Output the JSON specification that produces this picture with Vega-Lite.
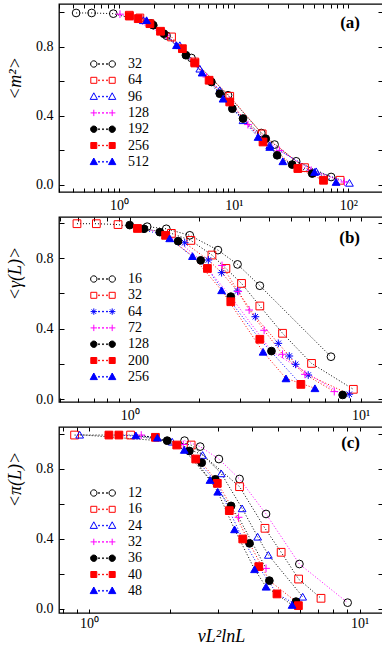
{
"$schema": "https://vega.github.io/schema/vega-lite/v6.json",
"padding": {"left": 5, "top": 2, "right": 2, "bottom": 0},
"bounds": "flush",
"spacing": 25,
"datasets": {
"a": [
{"L":"32","x":0.423,"y":0.997},{"L":"32","x":0.578,"y":0.997},{"L":"32","x":0.892,"y":0.993},{"L":"32","x":1.9,"y":0.937},{"L":"32","x":2.6,"y":0.865},{"L":"32","x":4.28,"y":0.736},{"L":"32","x":8.92,"y":0.52},{"L":"32","x":17.4,"y":0.301},{"L":"32","x":22.7,"y":0.234},{"L":"32","x":35,"y":0.137},{"L":"32","x":70.6,"y":0.046},
{"L":"64","x":1.23,"y":0.984},{"L":"64","x":1.52,"y":0.968},{"L":"64","x":2.87,"y":0.858},{"L":"64","x":4.58,"y":0.713},{"L":"64","x":9.23,"y":0.514},{"L":"64","x":17.7,"y":0.296},{"L":"64","x":41.4,"y":0.1},{"L":"64","x":84.5,"y":0.027},
{"L":"96","x":1.63,"y":0.955},{"L":"96","x":3.39,"y":0.81},{"L":"96","x":5.06,"y":0.674},{"L":"96","x":7.55,"y":0.549},{"L":"96","x":12.05,"y":0.375},{"L":"96","x":20.6,"y":0.23},{"L":"96","x":52.3,"y":0.079},{"L":"96","x":102,"y":0.012},
{"L":"128","x":1.02,"y":0.99},{"L":"128","x":2.59,"y":0.868},{"L":"128","x":5.78,"y":0.626},{"L":"128","x":9.23,"y":0.49},{"L":"128","x":13.3,"y":0.35},{"L":"128","x":25.1,"y":0.2},{"L":"128","x":47.3,"y":0.085},{"L":"128","x":92.3,"y":0.017},
{"L":"192","x":1.99,"y":0.926},{"L":"192","x":2.46,"y":0.877},{"L":"192","x":3.83,"y":0.752},{"L":"192","x":6.39,"y":0.597},{"L":"192","x":7.55,"y":0.529},{"L":"192","x":9.73,"y":0.442},{"L":"192","x":12.05,"y":0.385},{"L":"192","x":19,"y":0.268},{"L":"192","x":23.9,"y":0.172},{"L":"192","x":32.3,"y":0.118},{"L":"192","x":48.3,"y":0.066},
{"L":"256","x":1.23,"y":0.979},{"L":"256","x":1.47,"y":0.964},{"L":"256","x":1.86,"y":0.935},{"L":"256","x":2.3,"y":0.891},{"L":"256","x":3.57,"y":0.79},{"L":"256","x":4.58,"y":0.707},{"L":"256","x":6.1,"y":0.607},{"L":"256","x":9.23,"y":0.481},{"L":"256","x":18,"y":0.249},{"L":"256","x":36.2,"y":0.095},{"L":"256","x":60.6,"y":0.027},
{"L":"512","x":1.74,"y":0.955},{"L":"512","x":3.17,"y":0.81},{"L":"512","x":5.3,"y":0.651},{"L":"512","x":8.07,"y":0.5},{"L":"512","x":16.3,"y":0.278},{"L":"512","x":20.6,"y":0.22},{"L":"512","x":26.8,"y":0.137},{"L":"512","x":50.6,"y":0.075},{"L":"512","x":78,"y":0.017}
],
"b": [
{"L":"16","x":1.19,"y":0.978},{"L":"16","x":1.44,"y":0.966},{"L":"16","x":1.82,"y":0.929},{"L":"16","x":2.41,"y":0.845},{"L":"16","x":2.93,"y":0.764},{"L":"16","x":3.66,"y":0.643},{"L":"16","x":7.44,"y":0.24},
{"L":"32","x":0.591,"y":0.995},{"L":"32","x":0.717,"y":0.995},{"L":"32","x":0.89,"y":0.99},{"L":"32","x":1.515,"y":0.94},{"L":"32","x":1.84,"y":0.9},{"L":"32","x":2.27,"y":0.817},{"L":"32","x":2.61,"y":0.741},{"L":"32","x":3.05,"y":0.656},{"L":"32","x":3.66,"y":0.528},{"L":"32","x":4.59,"y":0.373},{"L":"32","x":6.13,"y":0.202},{"L":"32","x":9.3,"y":0.055},
{"L":"64","x":1.73,"y":0.887},{"L":"64","x":2.19,"y":0.789},{"L":"64","x":2.5,"y":0.717},{"L":"64","x":2.93,"y":0.613},{"L":"64","x":3.5,"y":0.467},{"L":"64","x":4.4,"y":0.316},{"L":"64","x":4.91,"y":0.244},{"L":"64","x":5.23,"y":0.197},{"L":"64","x":5.93,"y":0.136},{"L":"64","x":8.93,"y":0.027},
{"L":"72","x":2.51,"y":0.758},{"L":"72","x":2.95,"y":0.61},{"L":"72","x":3.29,"y":0.505},{"L":"72","x":3.82,"y":0.39},{"L":"72","x":4.59,"y":0.254},{"L":"72","x":5.74,"y":0.14},{"L":"72","x":7.69,"y":0.042},
{"L":"128","x":1.0,"y":0.987},{"L":"128","x":1.153,"y":0.966},{"L":"128","x":1.35,"y":0.947},{"L":"128","x":1.62,"y":0.896},{"L":"128","x":2.03,"y":0.787},{"L":"128","x":2.74,"y":0.581},{"L":"128","x":4.11,"y":0.272},{"L":"128","x":8.36,"y":0.023},
{"L":"200","x":1.08,"y":0.968},{"L":"200","x":1.43,"y":0.929},{"L":"200","x":2.17,"y":0.741},{"L":"200","x":2.74,"y":0.552},{"L":"200","x":3.66,"y":0.339},{"L":"200","x":5.51,"y":0.083},
{"L":"256","x":1.49,"y":0.912},{"L":"256","x":1.87,"y":0.811},{"L":"256","x":2.5,"y":0.617},{"L":"256","x":3.78,"y":0.268},{"L":"256","x":4.75,"y":0.117},{"L":"256","x":6.34,"y":0.061}
],
"c": [
{"L":"12","x":2.255,"y":0.962},{"L":"12","x":2.575,"y":0.928},{"L":"12","x":3.02,"y":0.857},{"L":"12","x":3.6,"y":0.743},{"L":"12","x":4.51,"y":0.543},{"L":"12","x":5.99,"y":0.257},{"L":"12","x":9.03,"y":0.036},
{"L":"16","x":0.885,"y":0.994},{"L":"16","x":1.425,"y":0.994},{"L":"16","x":2.385,"y":0.937},{"L":"16","x":3.6,"y":0.699},{"L":"16","x":4.47,"y":0.461},{"L":"16","x":5.13,"y":0.324},{"L":"16","x":5.95,"y":0.171},{"L":"16","x":7.2,"y":0.061},
{"L":"24","x":0.924,"y":0.996},{"L":"24","x":2.03,"y":0.956},{"L":"24","x":2.63,"y":0.88},{"L":"24","x":3.08,"y":0.775},{"L":"24","x":3.68,"y":0.575},{"L":"24","x":4.2,"y":0.413},{"L":"24","x":4.6,"y":0.309},{"L":"24","x":6.16,"y":0.07},
{"L":"32","x":1.56,"y":0.994},{"L":"32","x":2.23,"y":0.94},{"L":"32","x":3.57,"y":0.524},{"L":"32","x":4.51,"y":0.232},
{"L":"36","x":1.945,"y":0.962},{"L":"36","x":2.35,"y":0.903},{"L":"36","x":2.61,"y":0.836},{"L":"36","x":2.93,"y":0.741},{"L":"36","x":3.35,"y":0.589},{"L":"36","x":3.92,"y":0.375},{"L":"36","x":4.64,"y":0.162},{"L":"36","x":5.82,"y":0.042},
{"L":"40","x":1.185,"y":0.994},{"L":"40","x":1.29,"y":0.994},{"L":"40","x":1.76,"y":0.981},{"L":"40","x":2.11,"y":0.937},{"L":"40","x":2.48,"y":0.857},{"L":"40","x":2.98,"y":0.718},{"L":"40","x":3.3,"y":0.562},{"L":"40","x":3.7,"y":0.4},{"L":"40","x":4.24,"y":0.242},{"L":"40","x":4.95,"y":0.086},{"L":"40","x":5.94,"y":0.019},
{"L":"48","x":1.49,"y":0.992},{"L":"48","x":1.79,"y":0.979},{"L":"48","x":2.25,"y":0.909},{"L":"48","x":2.8,"y":0.737},{"L":"48","x":2.99,"y":0.67},{"L":"48","x":3.45,"y":0.455},{"L":"48","x":4.09,"y":0.227},{"L":"48","x":4.51,"y":0.127},{"L":"48","x":5.63,"y":0.023}
]
},
"vconcat": [
{
"width": 324, "height": 188,
"title": {"text": "(a)", "orient": "top", "anchor": "end", "frame": "group", "offset": -28, "dx": -23, "font": "Liberation Serif", "fontSize": 17, "fontWeight": "bold", "color": "black"},
"data": {"name": "a"},
"layer": [
{"mark": {"type": "line", "strokeDash": [1, 2], "strokeWidth": 1},
"encoding": {
"x": {"field": "x", "type": "quantitative", "scale": {"type": "log", "domain": [0.3, 200], "nice": false},
"axis": {"orient": "bottom", "values": [0.3,0.4,0.5,0.6,0.7,0.8,0.9,1,2,3,4,5,6,7,8,9,10,20,30,40,50,60,70,80,90,100], "labelExpr": "datum.value==1?'10⁰':datum.value==10?'10¹':datum.value==100?'10²':''", "tickSize": -4, "labelPadding": 10, "title": null}},
"y": {"field": "y", "type": "quantitative", "scale": {"domain": [-0.041, 1.049], "nice": false, "zero": false},
"axis": {"orient": "left", "values": [0,0.2,0.4,0.6,0.8,1.0], "format": ".1f", "labelExpr": "datum.value==0||datum.value==0.4||datum.value==0.8?datum.label:''", "tickSize": -5, "labelPadding": 11, "title": "<m²>", "titleX": -35, "titleY": 74}},
"color": {"field": "L", "type": "nominal", "scale": {"domain": ["32","64","96","128","192","256","512"], "range": ["#000000","#ff0000","#0000ff","#ff00ff","#000000","#ff0000","#0000ff"]}, "legend": null}
}},
{"mark": {"type": "point", "size": 60, "strokeWidth": 1, "opacity": 1},
"encoding": {
"x": {"field": "x", "type": "quantitative", "axis": {"orient": "top", "values": [0.3,0.4,0.5,0.6,0.7,0.8,0.9,1,2,3,4,5,6,7,8,9,10,20,30,40,50,60,70,80,90,100], "labels": false, "tickSize": -4, "title": null}},
"y": {"field": "y", "type": "quantitative", "axis": {"orient": "right", "values": [0,0.2,0.4,0.6,0.8,1.0], "labels": false, "tickSize": -5, "title": null}},
"stroke": {"field": "L", "type": "nominal", "scale": {"domain": ["32","64","96","128","192","256","512"], "range": ["#000000","#ff0000","#0000ff","#ff00ff","#000000","#ff0000","#0000ff"]}, "legend": null},
"fill": {"field": "L", "type": "nominal", "scale": {"domain": ["32","64","96","128","192","256","512"], "range": ["transparent","transparent","transparent","#ff00ff","#000000","#ff0000","#0000ff"]}, "legend": null},
"shape": {"field": "L", "type": "nominal", "scale": {"domain": ["32","64","96","128","192","256","512"], "range": ["circle","square","triangle-up","M-1,0H1M0,-1V1","circle","square","triangle-up"]}, "legend": null}
}},
{"mark": {"type": "point", "opacity": 0},
"encoding": {
"x": {"field": "x", "type": "quantitative", "axis": null},
"y": {"field": "y", "type": "quantitative", "axis": null},
"stroke": {"field": "L", "type": "nominal", "scale": {"domain": ["32","64","96","128","192","256","512"], "range": ["#000000","#ff0000","#0000ff","#ff00ff","#000000","#ff0000","#0000ff"]}, "legend": {"orient": "none", "legendX": 37, "legendY": 53, "title": null}},
"fill": {"field": "L", "type": "nominal", "scale": {"domain": ["32","64","96","128","192","256","512"], "range": ["transparent","transparent","transparent","#ff00ff","#000000","#ff0000","#0000ff"]}, "legend": {"orient": "none", "legendX": 37, "legendY": 53, "title": null}},
"shape": {"field": "L", "type": "nominal", "scale": {"domain": ["32","64","96","128","192","256","512"], "range": [
"M-1.5,0A0.8,0.8 0 1,1 -3.1,0A0.8,0.8 0 1,1 -1.5,0ZM3.1,0A0.8,0.8 0 1,1 1.5,0A0.8,0.8 0 1,1 3.1,0ZM-1.1,-0.1h0.2v0.2h-0.2ZM-0.1,-0.1h0.2v0.2h-0.2ZM0.9,-0.1h0.2v0.2h-0.2Z",
"M-3.05,-0.75H-1.55V0.75H-3.05ZM1.55,-0.75H3.05V0.75H1.55ZM-1.1,-0.1h0.2v0.2h-0.2ZM-0.1,-0.1h0.2v0.2h-0.2ZM0.9,-0.1h0.2v0.2h-0.2Z",
"M-2.3,-0.95L-1.4,0.7H-3.2ZM2.3,-0.95L3.2,0.7H1.4ZM-1.1,-0.1h0.2v0.2h-0.2ZM-0.1,-0.1h0.2v0.2h-0.2ZM0.9,-0.1h0.2v0.2h-0.2Z",
"M-3.1,0H-1.5M-2.3,-0.8V0.8M1.5,0H3.1M2.3,-0.8V0.8M-1.1,-0.1h0.2v0.2h-0.2ZM-0.1,-0.1h0.2v0.2h-0.2ZM0.9,-0.1h0.2v0.2h-0.2Z",
"M-1.5,0A0.8,0.8 0 1,1 -3.1,0A0.8,0.8 0 1,1 -1.5,0ZM3.1,0A0.8,0.8 0 1,1 1.5,0A0.8,0.8 0 1,1 3.1,0ZM-1.1,-0.1h0.2v0.2h-0.2ZM-0.1,-0.1h0.2v0.2h-0.2ZM0.9,-0.1h0.2v0.2h-0.2Z",
"M-3.05,-0.75H-1.55V0.75H-3.05ZM1.55,-0.75H3.05V0.75H1.55ZM-1.1,-0.1h0.2v0.2h-0.2ZM-0.1,-0.1h0.2v0.2h-0.2ZM0.9,-0.1h0.2v0.2h-0.2Z",
"M-2.3,-0.95L-1.4,0.7H-3.2ZM2.3,-0.95L3.2,0.7H1.4ZM-1.1,-0.1h0.2v0.2h-0.2ZM-0.1,-0.1h0.2v0.2h-0.2ZM0.9,-0.1h0.2v0.2h-0.2Z"
]}, "legend": {"orient": "none", "legendX": 37, "legendY": 53, "title": null}}
}}
],
"resolve": {"axis": {"x": "independent", "y": "independent"}, "scale": {"stroke": "independent", "fill": "independent", "shape": "independent"}}
},
{
"width": 324, "height": 185,
"title": {"text": "(b)", "orient": "top", "anchor": "end", "frame": "group", "offset": -30, "dx": -23, "font": "Liberation Serif", "fontSize": 17, "fontWeight": "bold", "color": "black"},
"data": {"name": "b"},
"layer": [
{"mark": {"type": "line", "strokeDash": [1, 2], "strokeWidth": 1},
"encoding": {
"x": {"field": "x", "type": "quantitative", "scale": {"type": "log", "domain": [0.494, 12.5], "nice": false},
"axis": {"orient": "bottom", "values": [0.5,0.6,0.7,0.8,0.9,1,2,3,4,5,6,7,8,9,10], "labelExpr": "datum.value==1?'10⁰':datum.value==10?'10¹':''", "tickSize": -4, "labelPadding": 10, "title": null}},
"y": {"field": "y", "type": "quantitative", "scale": {"domain": [-0.017, 1.033], "nice": false, "zero": false},
"axis": {"orient": "left", "values": [0,0.2,0.4,0.6,0.8,1.0], "format": ".1f", "labelExpr": "datum.value==0||datum.value==0.4||datum.value==0.8?datum.label:''", "tickSize": -5, "labelPadding": 11, "title": "<γ(L)>", "titleX": -35, "titleY": 56}},
"color": {"field": "L", "type": "nominal", "scale": {"domain": ["16","32","64","72","128","200","256"], "range": ["#000000","#ff0000","#0000ff","#ff00ff","#000000","#ff0000","#0000ff"]}, "legend": null}
}},
{"mark": {"type": "point", "size": 60, "strokeWidth": 1, "opacity": 1},
"encoding": {
"x": {"field": "x", "type": "quantitative", "axis": {"orient": "top", "values": [0.5,0.6,0.7,0.8,0.9,1,2,3,4,5,6,7,8,9,10], "labels": false, "tickSize": -4, "title": null}},
"y": {"field": "y", "type": "quantitative", "axis": {"orient": "right", "values": [0,0.2,0.4,0.6,0.8,1.0], "labels": false, "tickSize": -5, "title": null}},
"stroke": {"field": "L", "type": "nominal", "scale": {"domain": ["16","32","64","72","128","200","256"], "range": ["#000000","#ff0000","#0000ff","#ff00ff","#000000","#ff0000","#0000ff"]}, "legend": null},
"fill": {"field": "L", "type": "nominal", "scale": {"domain": ["16","32","64","72","128","200","256"], "range": ["transparent","transparent","#0000ff","#ff00ff","#000000","#ff0000","#0000ff"]}, "legend": null},
"shape": {"field": "L", "type": "nominal", "scale": {"domain": ["16","32","64","72","128","200","256"], "range": ["circle","square","M-1,0H1M0,-1V1M-0.7,-0.7L0.7,0.7M-0.7,0.7L0.7,-0.7","M-1,0H1M0,-1V1","circle","square","triangle-up"]}, "legend": null}
}},
{"mark": {"type": "point", "opacity": 0},
"encoding": {
"x": {"field": "x", "type": "quantitative", "axis": null},
"y": {"field": "y", "type": "quantitative", "axis": null},
"stroke": {"field": "L", "type": "nominal", "scale": {"domain": ["16","32","64","72","128","200","256"], "range": ["#000000","#ff0000","#0000ff","#ff00ff","#000000","#ff0000","#0000ff"]}, "legend": {"orient": "none", "legendX": 37, "legendY": 55, "title": null}},
"fill": {"field": "L", "type": "nominal", "scale": {"domain": ["16","32","64","72","128","200","256"], "range": ["transparent","transparent","#0000ff","#ff00ff","#000000","#ff0000","#0000ff"]}, "legend": {"orient": "none", "legendX": 37, "legendY": 55, "title": null}},
"shape": {"field": "L", "type": "nominal", "scale": {"domain": ["16","32","64","72","128","200","256"], "range": [
"M-1.5,0A0.8,0.8 0 1,1 -3.1,0A0.8,0.8 0 1,1 -1.5,0ZM3.1,0A0.8,0.8 0 1,1 1.5,0A0.8,0.8 0 1,1 3.1,0ZM-1.1,-0.1h0.2v0.2h-0.2ZM-0.1,-0.1h0.2v0.2h-0.2ZM0.9,-0.1h0.2v0.2h-0.2Z",
"M-3.05,-0.75H-1.55V0.75H-3.05ZM1.55,-0.75H3.05V0.75H1.55ZM-1.1,-0.1h0.2v0.2h-0.2ZM-0.1,-0.1h0.2v0.2h-0.2ZM0.9,-0.1h0.2v0.2h-0.2Z",
"M-3.1,0H-1.5M-2.3,-0.8V0.8M-2.85,-0.55L-1.75,0.55M-2.85,0.55L-1.75,-0.55M1.5,0H3.1M2.3,-0.8V0.8M1.75,-0.55L2.85,0.55M1.75,0.55L2.85,-0.55M-1.1,-0.1h0.2v0.2h-0.2ZM-0.1,-0.1h0.2v0.2h-0.2ZM0.9,-0.1h0.2v0.2h-0.2Z",
"M-3.1,0H-1.5M-2.3,-0.8V0.8M1.5,0H3.1M2.3,-0.8V0.8M-1.1,-0.1h0.2v0.2h-0.2ZM-0.1,-0.1h0.2v0.2h-0.2ZM0.9,-0.1h0.2v0.2h-0.2Z",
"M-1.5,0A0.8,0.8 0 1,1 -3.1,0A0.8,0.8 0 1,1 -1.5,0ZM3.1,0A0.8,0.8 0 1,1 1.5,0A0.8,0.8 0 1,1 3.1,0ZM-1.1,-0.1h0.2v0.2h-0.2ZM-0.1,-0.1h0.2v0.2h-0.2ZM0.9,-0.1h0.2v0.2h-0.2Z",
"M-3.05,-0.75H-1.55V0.75H-3.05ZM1.55,-0.75H3.05V0.75H1.55ZM-1.1,-0.1h0.2v0.2h-0.2ZM-0.1,-0.1h0.2v0.2h-0.2ZM0.9,-0.1h0.2v0.2h-0.2Z",
"M-2.3,-0.95L-1.4,0.7H-3.2ZM2.3,-0.95L3.2,0.7H1.4ZM-1.1,-0.1h0.2v0.2h-0.2ZM-0.1,-0.1h0.2v0.2h-0.2ZM0.9,-0.1h0.2v0.2h-0.2Z"
]}, "legend": {"orient": "none", "legendX": 37, "legendY": 55, "title": null}}
}}
],
"resolve": {"axis": {"x": "independent", "y": "independent"}, "scale": {"stroke": "independent", "fill": "independent", "shape": "independent"}}
},
{
"width": 324, "height": 186,
"title": {"text": "(c)", "orient": "top", "anchor": "end", "frame": "group", "offset": -25, "dx": -23, "font": "Liberation Serif", "fontSize": 17, "fontWeight": "bold", "color": "black"},
"data": {"name": "c"},
"layer": [
{"mark": {"type": "line", "strokeDash": [1, 2], "strokeWidth": 1},
"encoding": {
"x": {"field": "x", "type": "quantitative", "scale": {"type": "log", "domain": [0.775, 12.2], "nice": false},
"axis": {"orient": "bottom", "values": [0.8,0.9,1,2,3,4,5,6,7,8,9,10], "labelExpr": "datum.value==1?'10⁰':datum.value==10?'10¹':''", "tickSize": -4, "labelPadding": 7, "title": "νL²lnL", "titleFontSize": 18, "titleFontStyle": "italic", "titlePadding": -3}},
"y": {"field": "y", "type": "quantitative", "scale": {"domain": [-0.023, 1.04], "nice": false, "zero": false},
"axis": {"orient": "left", "values": [0,0.2,0.4,0.6,0.8,1.0], "format": ".1f", "labelExpr": "datum.value==0||datum.value==0.4||datum.value==0.8?datum.label:''", "tickSize": -5, "labelPadding": 11, "title": "<π(L)>", "titleX": -35, "titleY": 52}},
"color": {"field": "L", "type": "nominal", "scale": {"domain": ["12","16","24","32","36","40","48"], "range": ["#000000","#ff0000","#0000ff","#ff00ff","#000000","#ff0000","#0000ff"]}, "legend": null}
}},
{"mark": {"type": "point", "size": 60, "strokeWidth": 1, "opacity": 1},
"encoding": {
"x": {"field": "x", "type": "quantitative", "axis": {"orient": "top", "values": [0.8,0.9,1,2,3,4,5,6,7,8,9,10], "labels": false, "tickSize": -4, "title": null}},
"y": {"field": "y", "type": "quantitative", "axis": {"orient": "right", "values": [0,0.2,0.4,0.6,0.8,1.0], "labels": false, "tickSize": -5, "title": null}},
"stroke": {"field": "L", "type": "nominal", "scale": {"domain": ["12","16","24","32","36","40","48"], "range": ["#000000","#ff0000","#0000ff","#ff00ff","#000000","#ff0000","#0000ff"]}, "legend": null},
"fill": {"field": "L", "type": "nominal", "scale": {"domain": ["12","16","24","32","36","40","48"], "range": ["transparent","transparent","transparent","#ff00ff","#000000","#ff0000","#0000ff"]}, "legend": null},
"shape": {"field": "L", "type": "nominal", "scale": {"domain": ["12","16","24","32","36","40","48"], "range": ["circle","square","triangle-up","M-1,0H1M0,-1V1","circle","square","triangle-up"]}, "legend": null}
}},
{"mark": {"type": "point", "opacity": 0},
"encoding": {
"x": {"field": "x", "type": "quantitative", "axis": null},
"y": {"field": "y", "type": "quantitative", "axis": null},
"stroke": {"field": "L", "type": "nominal", "scale": {"domain": ["12","16","24","32","36","40","48"], "range": ["#000000","#ff0000","#0000ff","#ff00ff","#000000","#ff0000","#0000ff"]}, "legend": {"orient": "none", "legendX": 37, "legendY": 59, "title": null}},
"fill": {"field": "L", "type": "nominal", "scale": {"domain": ["12","16","24","32","36","40","48"], "range": ["transparent","transparent","transparent","#ff00ff","#000000","#ff0000","#0000ff"]}, "legend": {"orient": "none", "legendX": 37, "legendY": 59, "title": null}},
"shape": {"field": "L", "type": "nominal", "scale": {"domain": ["12","16","24","32","36","40","48"], "range": [
"M-1.5,0A0.8,0.8 0 1,1 -3.1,0A0.8,0.8 0 1,1 -1.5,0ZM3.1,0A0.8,0.8 0 1,1 1.5,0A0.8,0.8 0 1,1 3.1,0ZM-1.1,-0.1h0.2v0.2h-0.2ZM-0.1,-0.1h0.2v0.2h-0.2ZM0.9,-0.1h0.2v0.2h-0.2Z",
"M-3.05,-0.75H-1.55V0.75H-3.05ZM1.55,-0.75H3.05V0.75H1.55ZM-1.1,-0.1h0.2v0.2h-0.2ZM-0.1,-0.1h0.2v0.2h-0.2ZM0.9,-0.1h0.2v0.2h-0.2Z",
"M-2.3,-0.95L-1.4,0.7H-3.2ZM2.3,-0.95L3.2,0.7H1.4ZM-1.1,-0.1h0.2v0.2h-0.2ZM-0.1,-0.1h0.2v0.2h-0.2ZM0.9,-0.1h0.2v0.2h-0.2Z",
"M-3.1,0H-1.5M-2.3,-0.8V0.8M1.5,0H3.1M2.3,-0.8V0.8M-1.1,-0.1h0.2v0.2h-0.2ZM-0.1,-0.1h0.2v0.2h-0.2ZM0.9,-0.1h0.2v0.2h-0.2Z",
"M-1.5,0A0.8,0.8 0 1,1 -3.1,0A0.8,0.8 0 1,1 -1.5,0ZM3.1,0A0.8,0.8 0 1,1 1.5,0A0.8,0.8 0 1,1 3.1,0ZM-1.1,-0.1h0.2v0.2h-0.2ZM-0.1,-0.1h0.2v0.2h-0.2ZM0.9,-0.1h0.2v0.2h-0.2Z",
"M-3.05,-0.75H-1.55V0.75H-3.05ZM1.55,-0.75H3.05V0.75H1.55ZM-1.1,-0.1h0.2v0.2h-0.2ZM-0.1,-0.1h0.2v0.2h-0.2ZM0.9,-0.1h0.2v0.2h-0.2Z",
"M-2.3,-0.95L-1.4,0.7H-3.2ZM2.3,-0.95L3.2,0.7H1.4ZM-1.1,-0.1h0.2v0.2h-0.2ZM-0.1,-0.1h0.2v0.2h-0.2ZM0.9,-0.1h0.2v0.2h-0.2Z"
]}, "legend": {"orient": "none", "legendX": 37, "legendY": 59, "title": null}}
}}
],
"resolve": {"axis": {"x": "independent", "y": "independent"}, "scale": {"stroke": "independent", "fill": "independent", "shape": "independent"}}
}
],
"config": {
"font": "Liberation Serif",
"view": {"stroke": "#000000", "strokeWidth": 1.3},
"axis": {"grid": false, "domain": false, "tickColor": "#000000", "tickWidth": 1, "labelColor": "#000000", "labelFont": "Liberation Serif", "labelFontSize": 14, "titleFont": "Liberation Serif", "titleFontSize": 18, "titleFontWeight": "normal", "titleFontStyle": "italic", "titleColor": "#000000"},
"legend": {"padding": 0, "symbolSize": 64, "symbolStrokeWidth": 1, "symbolOpacity": 1, "labelFont": "Liberation Serif", "labelFontSize": 14, "labelColor": "#000000", "labelOffset": 18, "rowPadding": 2.3}
}
}
